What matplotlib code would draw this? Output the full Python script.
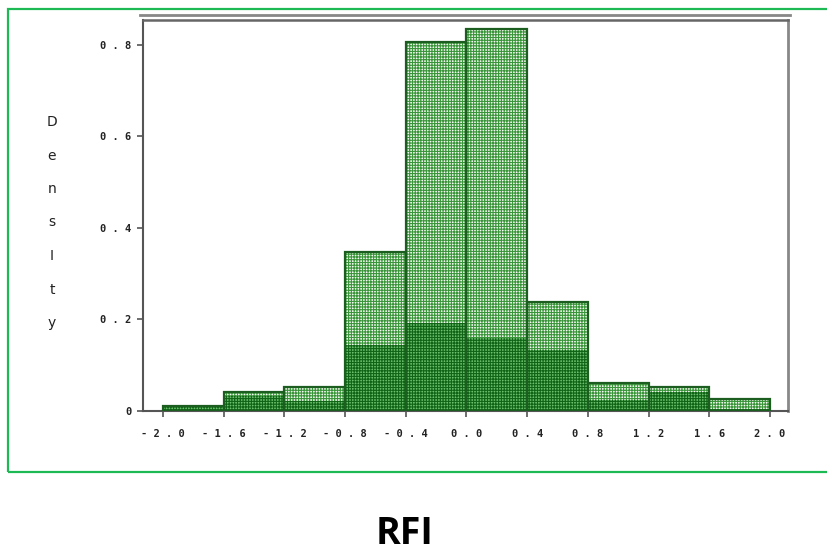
import matplotlib
matplotlib.use("Agg")
import matplotlib.pyplot as plt
from matplotlib.patches import Rectangle
from matplotlib.lines import Line2D

# ---- data ----
bin_left = [-2.0, -1.6, -1.2, -0.8, -0.4, 0.0, 0.4, 0.8, 1.2, 1.6]
bin_width = 0.4
total_density = [0.012, 0.041, 0.052, 0.348, 0.807, 0.836, 0.239, 0.062, 0.052, 0.026]
inner_density = [0.012, 0.033, 0.022, 0.144, 0.192, 0.159, 0.133, 0.023, 0.042, 0.004]
x_ticks = [-2.0, -1.6, -1.2, -0.8, -0.4, 0.0, 0.4, 0.8, 1.2, 1.6, 2.0]
x_tick_labels = ["-2.0", "-1.6", "-1.2", "-0.8", "-0.4", "0.0", "0.4", "0.8", "1.2", "1.6", "2.0"]
y_ticks = [0, 0.2, 0.4, 0.6, 0.8]
y_tick_labels = ["0", "0.2", "0.4", "0.6", "0.8"]
y_label = "DensIty"
x_title = "RFI"

plt.rcParams['hatch.linewidth'] = 0.8

W, H = 827, 552
fig = plt.figure(figsize=(W / 100, H / 100), dpi=100)

# green frame
fig.add_artist(Rectangle((8 / W, 1 - 472 / H), (W + 20) / W, (472 - 9) / H,
                         transform=fig.transFigure, fill=False,
                         edgecolor="#1db954", linewidth=1.6, clip_on=False))

ax = fig.add_axes([143 / W, 1 - 411 / H, (788 - 143) / W, (411 - 20) / H])
ax.set_xlim(-2.132, 2.119)
ax.set_ylim(0, 0.8546)

# light (total) bars with fine grid texture
ax.bar(bin_left, total_density, width=bin_width, align="edge",
       facecolor="#f4fbf2", edgecolor="#3a953a", hatch="++++++", linewidth=0, zorder=2)
# dark (inner) bars
ax.bar(bin_left, inner_density, width=bin_width, align="edge",
       facecolor="#6cbf6c", edgecolor="#0f6416", hatch="++++++", linewidth=0, zorder=3)
# outlines
ax.bar(bin_left, total_density, width=bin_width, align="edge",
       fill=False, edgecolor="#1b5e20", linewidth=1.6, zorder=4)

# spines
for s in ["left", "bottom"]:
    ax.spines[s].set_color("#555555")
    ax.spines[s].set_linewidth(1.5)
ax.spines["right"].set_color("#888888")
ax.spines["right"].set_linewidth(2.0)
ax.spines["top"].set_color("#666666")
ax.spines["top"].set_linewidth(1.8)
ax.add_line(Line2D([-3 / 645, 1.003], [1 + 5 / 391, 1 + 5 / 391], transform=ax.transAxes,
                   color="#888888", linewidth=2.0, clip_on=False))

mono = dict(family="DejaVu Sans Mono", weight="bold", size=7.5, color="#222222")
ax.set_xticks(x_ticks)
ax.set_xticklabels([" ".join(t) for t in x_tick_labels], **mono)
ax.set_yticks(y_ticks)
ax.set_yticklabels([" ".join(t) for t in y_tick_labels], **mono)
ax.tick_params(axis="x", length=4, width=1.2, color="#555555", pad=9)
ax.tick_params(axis="y", length=4.5, width=1.2, color="#555555", pad=4)

# vertical y label, one letter per line
for i, ch in enumerate(y_label):
    fig.text(52 / W, 1 - (122 + i * 33.5) / H, ch, ha="center", va="center",
             family="DejaVu Sans", size=10, color="#222222")

fig.text(405 / W, 1 - 534 / H, x_title, ha="center", va="center",
         family="Open Sans", weight="bold", size=27, color="black")

fig.savefig("out.png", dpi=100)
